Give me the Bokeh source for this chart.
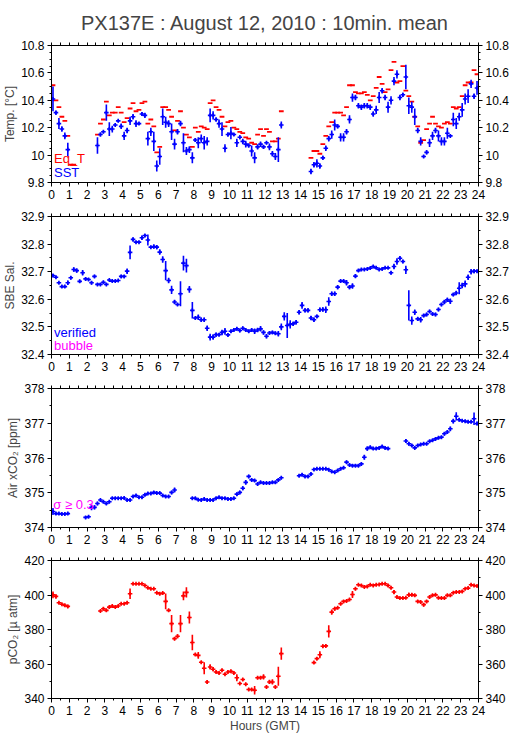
import numpy as np
from bokeh.plotting import figure
from bokeh.models import ColumnDataSource, LinearAxis, FixedTicker, Range1d, Label
from bokeh.layouts import column
from bokeh.embed import file_html
from bokeh.resources import INLINE

FONT = "Liberation Sans"
BLUE = "#0000ff"
RED = "#ff0000"
MAG = "#ff00ff"

TITLE = "PX137E : August 12, 2010 : 10min. mean"
hour_ticks = list(range(25))

# ---------------- Panel 1: temperatures (10-min slot index, 0..143) -------------
sst_slots = list(range(0, 6)) + list(range(15, 78)) + list(range(87, 144))
sst_vals = [10.41, 10.31, 10.23, 10.19, 10.14, 10.04,
            10.07, 10.15, 10.17, 10.31, 10.19, 10.19, 10.22, 10.25, 10.21, 10.14,
            10.18, 10.25, 10.28, 10.23, 10.23, 10.30, 10.29, 10.12, 10.17, 10.10,
            9.92, 9.99, 10.28, 10.24, 10.23, 10.17, 10.08, 10.17, 10.23, 10.09,
            10.03, 10.04, 9.98, 10.11, 10.09, 10.12, 10.09, 10.10, 10.29, 10.29,
            10.26, 10.23, 10.19, 10.05, 10.15, 10.16, 10.15, 10.09, 10.13, 10.10,
            10.08, 10.07, 10.03, 9.98, 10.06, 10.08, 10.06, 10.09, 10.06, 10.01,
            9.99, 10.04, 10.22,
            9.88, 9.93, 9.94, 9.92, 9.98, 10.05, 10.12, 10.15, 10.22, 10.21,
            10.13, 10.13, 10.17, 10.26, 10.42, 10.42, 10.36, 10.35, 10.36, 10.36,
            10.35, 10.30, 10.33, 10.42, 10.47, 10.42, 10.35, 10.40, 10.54, 10.59,
            10.42, 10.44, 10.57, 10.36, 10.35, 10.28, 10.18, 10.10, 9.99, 10.02,
            10.09, 10.14, 10.18, 10.14, 10.10, 10.10, 10.16, 10.14, 10.26, 10.23,
            10.28, 10.33, 10.41, 10.43, 10.52, 10.43, 10.49]
sst_sig = [0.09, 0.015, 0.04, 0.02, 0.025, 0.05,
           0.06, 0.015, 0.01, 0.06, 0.05, 0.025, 0.01, 0.01, 0.02, 0.03,
           0.02, 0.03, 0.02, 0.025, 0.01, 0.015, 0.02, 0.05, 0.03, 0.07,
           0.04, 0.06, 0.06, 0.04, 0.025, 0.06, 0.04, 0.02, 0.02, 0.07,
           0.03, 0.025, 0.04, 0.015, 0.04, 0.03, 0.05, 0.03, 0.05, 0.03,
           0.015, 0.03, 0.05, 0.03, 0.015, 0.045, 0.01, 0.03, 0.015, 0.02,
           0.025, 0.015, 0.04, 0.04, 0.02, 0.02, 0.015, 0.01, 0.025, 0.02,
           0.025, 0.09, 0.025,
           0.02, 0.02, 0.03, 0.02, 0.015, 0.02, 0.02, 0.03, 0.04, 0.015,
           0.03, 0.03, 0.02, 0.03, 0.03, 0.02, 0.02, 0.02, 0.02, 0.02,
           0.02, 0.02, 0.03, 0.04, 0.02, 0.02, 0.04, 0.03, 0.03, 0.03,
           0.02, 0.015, 0.09, 0.06, 0.04, 0.06, 0.02, 0.03, 0.01, 0.015,
           0.03, 0.03, 0.02, 0.04, 0.03, 0.03, 0.04, 0.01, 0.05, 0.04,
           0.03, 0.05, 0.04, 0.05, 0.03, 0.02, 0.05]

eqt_slots = list(range(0, 8)) + list(range(15, 78)) + list(range(87, 144))
eqt_vals = [10.51, 10.40, 10.35, 10.28, 10.25, 10.14, 9.93, 9.93,
            10.15, 10.23, 10.26, 10.39, 10.29, 10.31, 10.31, 10.35, 10.31, 10.24,
            10.27, 10.34, 10.38, 10.32, 10.33, 10.38, 10.39, 10.23, 10.26, 10.21,
            10.02, 10.06, 10.35, 10.35, 10.33, 10.28, 10.18, 10.25, 10.32, 10.20,
            10.15, 10.13, 10.06, 10.20, 10.17, 10.21, 10.20, 10.19, 10.38, 10.40,
            10.35, 10.33, 10.28, 10.21, 10.24, 10.25, 10.20, 10.19, 10.17, 10.16,
            10.13, 10.12, 10.09, 10.08, 10.15, 10.19, 10.14, 10.19, 10.17, 10.10,
            10.10, 10.12, 10.32,
            9.98, 10.03, 10.03, 10.01, 10.08, 10.14, 10.21, 10.24, 10.31, 10.31,
            10.31, 10.29, 10.35, 10.51, 10.51, 10.46, 10.45, 10.45, 10.46, 10.44,
            10.40, 10.43, 10.49, 10.57, 10.52, 10.46, 10.48, 10.62, 10.68, 10.53,
            10.54, 10.65, 10.47, 10.43, 10.39, 10.28, 10.21, 10.09, 10.11, 10.19,
            10.23, 10.28, 10.23, 10.21, 10.20, 10.23, 10.24, 10.23, 10.35, 10.34,
            10.35, 10.43, 10.51, 10.53, 10.53, 10.62, 10.59]

# ---------------- Panel 2: salinity -------------
sal_slots = list(range(0, 144))
sal_vals = [32.686, 32.680, 32.660, 32.646, 32.646, 32.660, 32.678, 32.708, 32.704, 32.665,
            32.696, 32.674, 32.672, 32.660, 32.683, 32.654, 32.654, 32.662, 32.654, 32.670,
            32.666, 32.666, 32.668, 32.683, 32.683, 32.702, 32.770, 32.817, 32.807, 32.807,
            32.823, 32.831, 32.815, 32.789, 32.791, 32.789, 32.771, 32.744, 32.704, 32.668,
            32.634, 32.590, 32.581, 32.620, 32.731, 32.722, 32.636, 32.560, 32.532, 32.535,
            32.526, 32.526, 32.495, 32.463, 32.463, 32.472, 32.472, 32.480, 32.484, 32.471,
            32.484, 32.489, 32.493, 32.487, 32.495, 32.489, 32.484, 32.489, 32.484, 32.489,
            32.493, 32.480, 32.466, 32.478, 32.480, 32.477, 32.475, 32.500, 32.538, 32.505,
            32.509, 32.511, 32.517, 32.553, 32.578, 32.560, 32.560, 32.532, 32.526, 32.538,
            32.562, 32.563, 32.562, 32.592, 32.620, 32.620, 32.644, 32.666, 32.666, 32.660,
            32.644, 32.648, 32.684, 32.704, 32.708, 32.708, 32.710, 32.713, 32.719, 32.714,
            32.708, 32.710, 32.714, 32.714, 32.696, 32.719, 32.737, 32.749, 32.737, 32.707,
            32.578, 32.523, 32.553, 32.529, 32.526, 32.541, 32.545, 32.556, 32.547, 32.545,
            32.563, 32.581, 32.590, 32.598, 32.593, 32.617, 32.623, 32.640, 32.650, 32.656,
            32.680, 32.700, 32.702, 32.702]
sal_sig = [0.006, 0.005, 0.004, 0.005, 0.004, 0.008, 0.006, 0.008, 0.008, 0.006,
           0.010, 0.006, 0.005, 0.006, 0.006, 0.004, 0.004, 0.005, 0.004, 0.004,
           0.004, 0.004, 0.004, 0.006, 0.005, 0.010, 0.025, 0.008, 0.005, 0.005,
           0.008, 0.006, 0.020, 0.005, 0.008, 0.008, 0.010, 0.012, 0.035, 0.010,
           0.015, 0.008, 0.005, 0.045, 0.027, 0.025, 0.012, 0.030, 0.005, 0.010,
           0.008, 0.008, 0.010, 0.012, 0.010, 0.008, 0.006, 0.010, 0.012, 0.006,
           0.006, 0.006, 0.006, 0.006, 0.006, 0.006, 0.006, 0.006, 0.010, 0.008,
           0.010, 0.008, 0.008, 0.006, 0.006, 0.006, 0.010, 0.012, 0.015, 0.045,
           0.015, 0.008, 0.008, 0.008, 0.012, 0.008, 0.008, 0.008, 0.008, 0.006,
           0.008, 0.008, 0.012, 0.015, 0.008, 0.008, 0.008, 0.006, 0.006, 0.010,
           0.008, 0.010, 0.008, 0.005, 0.004, 0.004, 0.004, 0.004, 0.004, 0.004,
           0.004, 0.004, 0.004, 0.004, 0.006, 0.010, 0.012, 0.008, 0.006, 0.015,
           0.055, 0.015, 0.010, 0.008, 0.010, 0.006, 0.006, 0.006, 0.006, 0.006,
           0.006, 0.006, 0.008, 0.008, 0.010, 0.006, 0.008, 0.022, 0.010, 0.012,
           0.010, 0.010, 0.008, 0.006]

# ---------------- Panel 3: air xCO2 -------------
air_slots = (list(range(0, 6)) + list(range(11, 42)) + list(range(47, 78))
             + list(range(83, 114)) + list(range(119, 144)))
air_vals = [374.46, 374.40, 374.40, 374.39, 374.39, 374.40,
            374.29, 374.31, 374.58, 374.58, 374.69, 374.79, 374.74, 374.69, 374.74, 374.84,
            374.84, 374.84, 374.84, 374.85, 374.79, 374.79, 374.89, 374.92, 374.87, 374.87,
            374.94, 374.98, 374.98, 375.01, 374.99, 374.99, 374.92, 374.89, 374.89, 375.01,
            375.08,
            374.84, 374.84, 374.80, 374.79, 374.82, 374.79, 374.79, 374.79, 374.84, 374.87,
            374.84, 374.84, 374.82, 374.82, 374.84, 374.96, 375.01, 375.13, 375.30, 375.47,
            375.37, 375.35, 375.25, 375.30, 375.28, 375.28, 375.28, 375.30, 375.30, 375.37,
            375.43,
            375.49, 375.52, 375.47, 375.47, 375.54, 375.67, 375.69, 375.69, 375.69, 375.69,
            375.66, 375.61, 375.59, 375.64, 375.69, 375.72, 375.88, 375.80, 375.78, 375.78,
            375.78, 375.83, 376.02, 376.27, 376.31, 376.27, 376.27, 376.29, 376.33, 376.29,
            376.27,
            376.49, 376.41, 376.36, 376.29, 376.36, 376.39, 376.41, 376.41, 376.48, 376.51,
            376.55, 376.58, 376.60, 376.70, 376.75, 376.84, 377.06, 377.20, 377.10, 377.07,
            377.06, 377.04, 377.04, 377.13, 376.99]
air_sig = [0.10, 0.04, 0.04, 0.04, 0.04, 0.04,
           0.04, 0.04, 0.08, 0.06, 0.05, 0.04, 0.04, 0.04, 0.04, 0.04,
           0.04, 0.04, 0.04, 0.04, 0.04, 0.04, 0.04, 0.04, 0.04, 0.04,
           0.04, 0.04, 0.04, 0.04, 0.04, 0.04, 0.04, 0.04, 0.04, 0.05,
           0.07,
           0.04, 0.04, 0.04, 0.04, 0.04, 0.04, 0.04, 0.04, 0.04, 0.04,
           0.04, 0.04, 0.04, 0.04, 0.04, 0.05, 0.05, 0.06, 0.07, 0.05,
           0.04, 0.04, 0.04, 0.04, 0.04, 0.04, 0.04, 0.04, 0.04, 0.04,
           0.04,
           0.04, 0.04, 0.04, 0.04, 0.04, 0.04, 0.04, 0.04, 0.04, 0.04,
           0.04, 0.04, 0.04, 0.04, 0.04, 0.04, 0.05, 0.04, 0.04, 0.04,
           0.04, 0.04, 0.07, 0.06, 0.04, 0.04, 0.04, 0.04, 0.04, 0.04,
           0.04,
           0.06, 0.05, 0.04, 0.04, 0.04, 0.04, 0.04, 0.04, 0.04, 0.04,
           0.04, 0.04, 0.04, 0.05, 0.05, 0.07, 0.07, 0.12, 0.05, 0.04,
           0.04, 0.04, 0.04, 0.18, 0.05]

# ---------------- Panel 4: pCO2 -------------
pco2_slots = list(range(0, 6)) + list(range(16, 78)) + list(range(88, 144))
pco2_vals = [400.1, 399.2, 395.5, 394.6, 394.0, 393.4,
             390.7, 392.0, 391.1, 393.0, 393.6, 393.0, 393.6, 394.9, 394.9, 395.5,
             400.7, 406.5, 406.5, 406.5, 406.5, 405.5, 404.2, 403.6, 403.6, 401.3,
             400.7, 401.1, 396.3, 391.1, 383.4, 374.7, 376.1, 383.4, 399.5, 401.5,
             387.0, 372.5, 365.5, 365.0, 361.0, 357.5, 349.6, 358.3, 357.0, 355.4,
             354.8, 356.4, 354.1, 355.4, 355.8, 354.8, 352.0, 348.7, 351.0, 348.3,
             345.2, 345.2, 344.8, 352.0, 352.1, 352.5, 346.7, 349.6, 349.6, 346.7,
             352.9, 366.0,
             360.8, 363.1, 365.4, 370.3, 370.5, 378.9, 390.1, 392.0, 392.6, 394.9,
             396.3, 396.5, 397.4, 400.3, 403.6, 405.9, 405.5, 404.6, 405.0, 405.9,
             405.5, 405.9, 406.1, 406.5, 406.5, 405.5, 404.2, 401.7, 398.8, 398.2,
             398.2, 398.4, 400.1, 400.1, 399.8, 396.3, 395.9, 394.4, 396.3, 398.8,
             399.8, 400.1, 398.4, 398.2, 398.2, 399.8, 399.8, 401.3, 401.7, 401.7,
             402.1, 403.6, 404.0, 405.9, 405.5, 405.2]
pco2_sig = [2.0, 1.2, 0.7, 0.6, 0.6, 0.9,
            0.6, 1.0, 0.8, 0.8, 0.8, 0.6, 0.6, 0.6, 0.6, 0.8,
            3.0, 0.6, 0.5, 0.5, 0.5, 0.6, 0.6, 0.6, 0.6, 0.8,
            0.8, 0.8, 4.5, 0.8, 5.0, 1.0, 1.2, 5.0, 2.5, 3.0,
            3.5, 4.5, 0.8, 2.0, 0.8, 3.5, 1.0, 1.5, 1.2, 0.8,
            0.8, 0.8, 0.8, 0.8, 0.8, 0.8, 2.0, 0.8, 0.8, 0.8,
            0.8, 0.8, 2.5, 0.8, 0.8, 1.5, 0.8, 1.2, 1.5, 0.8,
            5.5, 3.5,
            0.6, 0.8, 2.0, 1.0, 1.0, 3.5, 1.5, 1.2, 0.8, 0.8,
            0.8, 0.6, 0.6, 2.0, 0.8, 0.6, 0.6, 0.6, 0.6, 0.6,
            0.6, 0.6, 0.6, 0.6, 0.6, 0.8, 0.8, 1.2, 0.8, 0.6,
            0.6, 0.6, 1.2, 1.0, 0.8, 0.8, 0.8, 1.0, 0.8, 0.8,
            0.6, 0.8, 0.8, 0.6, 0.6, 0.6, 0.6, 0.6, 0.6, 0.6,
            0.6, 0.6, 0.8, 0.8, 0.6, 0.6]


def make_source(slots, vals, sig=None):
    s = np.asarray(slots, dtype=float)
    v = np.asarray(vals, dtype=float)
    e = np.zeros_like(v) if sig is None else np.asarray(sig, dtype=float)
    return ColumnDataSource(dict(x0=s / 6.0, x1=(s + 1) / 6.0, xc=(s + 0.5) / 6.0,
                                 y=v, lo=v - e, hi=v + e))


def style_axis(ax):
    ax.major_tick_in = 0
    ax.major_tick_out = 4
    ax.minor_tick_in = 0
    ax.minor_tick_out = 2
    ax.axis_line_color = "black"
    ax.major_tick_line_color = "black"
    ax.minor_tick_line_color = "black"
    ax.major_label_text_font = FONT
    ax.major_label_text_color = "black"
    ax.major_label_text_font_size = "12px"
    ax.major_label_standoff = 3


def make_panel(yr, yticks, yminor, ylabels, ylabel, fh, top, bottom,
               xlabel=None, title=None):
    p = figure(frame_width=427, frame_height=fh, x_range=Range1d(0, 24),
               y_range=Range1d(*yr), output_backend="svg", toolbar_location=None,
               min_border_left=44, min_border_right=34, min_border_top=top,
               min_border_bottom=bottom, x_axis_location=None, y_axis_location=None,
               title=title)
    p.grid.visible = False
    p.outline_line_color = "black"
    p.outline_line_width = 1
    p.background_fill_color = "white"
    p.border_fill_color = "white"
    xt = FixedTicker(ticks=hour_ticks, minor_ticks=[h + 0.5 for h in range(24)])
    yt = FixedTicker(ticks=yticks, minor_ticks=yminor)
    overrides = {t: l for t, l in zip(yticks, ylabels)}
    below = LinearAxis(ticker=xt)
    style_axis(below)
    if xlabel:
        below.axis_label = xlabel
        below.axis_label_text_font = FONT
        below.axis_label_text_font_size = "12px"
        below.axis_label_text_font_style = "normal"
        below.axis_label_standoff = 1
    p.add_layout(below, "below")
    # top edge: tick marks only (no labels)
    top_ticker = FixedTicker(ticks=[], minor_ticks=sorted(hour_ticks + [h + 0.5 for h in range(24)]))
    above = LinearAxis(ticker=top_ticker)
    style_axis(above)
    above.minor_tick_out = 3
    above.major_label_standoff = 0
    p.add_layout(above, "above")
    left = LinearAxis(ticker=yt, major_label_overrides=overrides)
    style_axis(left)
    left.axis_label = ylabel
    left.axis_label_text_font = FONT
    left.axis_label_text_font_size = "12px"
    left.axis_label_text_font_style = "normal"
    left.axis_label_standoff = 1
    p.add_layout(left, "left")
    right = LinearAxis(ticker=yt, major_label_overrides=overrides)
    style_axis(right)
    p.add_layout(right, "right")
    if title:
        p.title.text_font = FONT
        p.title.text_font_size = "20px"
        p.title.text_font_style = "normal"
        p.title.align = "center"
        p.title.standoff = 18
    return p


def draw_crosses(p, source, color):
    p.segment(x0="x0", y0="y", x1="x1", y1="y", source=source, line_color=color,
              line_width=1.6, line_cap="square")
    p.segment(x0="xc", y0="lo", x1="xc", y1="hi", source=source, line_color=color,
              line_width=1.6)
    p.scatter(x="xc", y="y", source=source, marker="dash", angle=np.pi / 2, size=4,
              line_color=color, line_width=1.6)


# Panel 1
t_ticks = [9.8, 10.0, 10.2, 10.4, 10.6, 10.8]
t_labels = ["9.8", "10", "10.2", "10.4", "10.6", "10.8"]
t_minor = [round(9.8 + 0.05 * i, 2) for i in range(21)]
p1 = make_panel((9.8, 10.8), t_ticks, t_minor, t_labels, "Temp. [°C]", 137, 45, 23,
                title=TITLE)
eq_src = make_source(eqt_slots, eqt_vals)
p1.segment(x0="x0", y0="y", x1="x1", y1="y", source=eq_src, line_color=RED,
           line_width=1.8, line_cap="square")
draw_crosses(p1, make_source(sst_slots, sst_vals, sst_sig), BLUE)
p1.add_layout(Label(x=0.14, y=9.975, text="Eq_T", text_color=RED, text_font=FONT,
                    text_font_size="13px", text_baseline="middle"))
p1.add_layout(Label(x=0.14, y=9.873, text="SST", text_color=BLUE, text_font=FONT,
                    text_font_size="13px", text_baseline="middle"))

# Panel 2
s_ticks = [32.4, 32.5, 32.6, 32.7, 32.8, 32.9]
s_labels = ["32.4", "32.5", "32.6", "32.7", "32.8", "32.9"]
s_minor = [round(32.4 + 0.05 * i, 2) for i in range(11)]
p2 = make_panel((32.4, 32.9), s_ticks, s_minor, s_labels, "SBE Sal.", 138, 11, 23)
draw_crosses(p2, make_source(sal_slots, sal_vals, sal_sig), BLUE)
p2.add_layout(Label(x=0.14, y=32.48, text="verified", text_color=BLUE, text_font=FONT,
                    text_font_size="13px", text_baseline="middle"))
p2.add_layout(Label(x=0.14, y=32.433, text="bubble", text_color=MAG, text_font=FONT,
                    text_font_size="13px", text_baseline="middle"))

# Panel 3
a_ticks = [374, 375, 376, 377, 378]
a_labels = ["374", "375", "376", "377", "378"]
a_minor = [374 + 0.5 * i for i in range(9)]
p3 = make_panel((374, 378), a_ticks, a_minor, a_labels, "Air xCO₂ [ppm]", 139, 11, 23)
draw_crosses(p3, make_source(air_slots, air_vals, air_sig), BLUE)
p3.add_layout(Label(x=0.1, y=374.66, text="σ ≥ 0.3", text_color=MAG, text_font=FONT,
                    text_font_size="13px", text_baseline="middle"))

# Panel 4
c_ticks = [340, 360, 380, 400, 420]
c_labels = ["340", "360", "380", "400", "420"]
c_minor = [340 + 10 * i for i in range(9)]
p4 = make_panel((340, 420), c_ticks, c_minor, c_labels, "pCO₂ [µ atm]", 138, 10, 33,
                xlabel="Hours (GMT)")
draw_crosses(p4, make_source(pco2_slots, pco2_vals, pco2_sig), RED)

layout = column(p1, p2, p3, p4, spacing=0)
open("out.html", "w").write(file_html(layout, INLINE))
